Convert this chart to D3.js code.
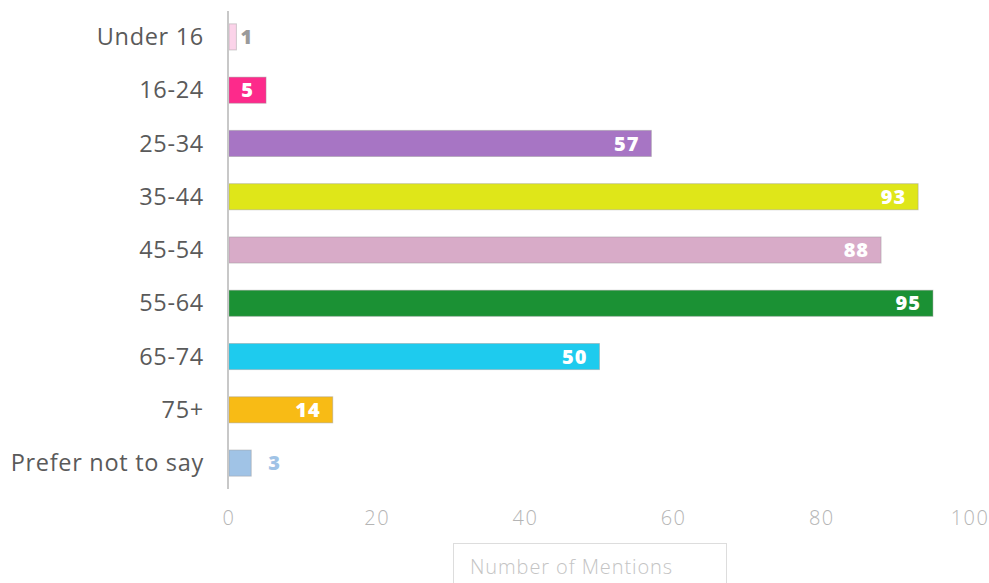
<!doctype html>
<html>
  <head>
    <meta charset="utf-8">
    <title>Age groups</title>
    <script src="https://cdnjs.cloudflare.com/ajax/libs/d3/7.8.5/d3.min.js"></script>
    <style>
      body { margin: 0; background: #fff; }
      svg text { font-family: "Open Sans", Lato, sans-serif; }
    </style>
  </head>
  <body>
    <div id="chart"></div>
    <script>
      // data
      const ageGroups = ['Under 16', '16-24', '25-34', '35-44', '45-54', '55-64', '65-74', '75+', 'Prefer not to say'];
      const mentions = [1, 5, 57, 93, 88, 95, 50, 14, 3];
      const barColors = ['#fbd3e9', '#fd2a8b', '#a775c4', '#dfe619', '#d8abc8', '#1b9134', '#1ecbee', '#f8bb15', '#a0c3e6'];
      const xTicks = [0, 20, 40, 60, 80, 100];

      const rows = ageGroups.map((g, i) => ({ group: g, value: mentions[i], color: barColors[i] }));

      const width = 989, height = 583;
      const svg = d3.select('#chart').append('svg')
        .attr('width', width)
        .attr('height', height);

      const x = d3.scaleLinear().domain([0, 100]).range([228, 969]);
      const y = d3.scaleBand()
        .domain(ageGroups)
        .range([10, 490])
        .paddingInner(0.51)
        .paddingOuter(0.26);

      // bars
      svg.selectAll('rect.bar')
        .data(rows)
        .join('rect')
        .attr('class', 'bar')
        .attr('x', x(0) + 1)
        .attr('y', d => y(d.group))
        .attr('width', d => x(d.value) - x(0))
        .attr('height', y.bandwidth())
        .attr('fill', d => d.color)
        .attr('stroke', '#999')
        .attr('stroke-opacity', 0.45)
        .attr('stroke-width', 1);

      // vertical axis line
      svg.append('line')
        .attr('x1', x(0)).attr('x2', x(0))
        .attr('y1', 11).attr('y2', 489)
        .attr('stroke', '#c8c8c8')
        .attr('stroke-width', 2);

      // category labels (letter-spacing leaves a trailing gap, so nudge right)
      svg.selectAll('text.cat')
        .data(rows)
        .join('text')
        .attr('class', 'cat')
        .attr('x', 204)
        .attr('y', d => y(d.group) + y.bandwidth() / 2)
        .attr('dy', '0.35em')
        .attr('text-anchor', 'end')
        .attr('font-size', 23.5)
        .attr('letter-spacing', 0.7)
        .attr('fill', '#5a5a5a')
        .text(d => d.group);

      // value labels
      const light = c => d3.hsl(c).l > 0.85;
      svg.selectAll('text.val')
        .data(rows)
        .join('text')
        .attr('class', 'val')
        .attr('x', d => d.value >= 5 ? x(d.value) - 11 : x(d.value) + (d.value > 1 ? 18 : 5))
        .attr('y', d => y(d.group) + y.bandwidth() / 2)
        .attr('dy', '0.36em')
        .attr('text-anchor', d => d.value >= 5 ? 'end' : 'start')
        .attr('font-size', 20)
        .attr('font-weight', 800)
        .attr('letter-spacing', 1)
        .attr('fill', d => d.value >= 5 ? '#fff' : (light(d.color) ? '#9a9a9a' : d.color))
        .text(d => d.value);

      // x axis tick labels
      svg.selectAll('text.tick')
        .data(xTicks)
        .join('text')
        .attr('class', 'tick')
        .attr('x', d => x(d) + 1)
        .attr('y', 518)
        .attr('dy', '0.35em')
        .attr('text-anchor', 'middle')
        .attr('font-size', 20)
        .attr('font-weight', 300)
        .attr('letter-spacing', 1.5)
        .attr('fill', '#b5b5b5')
        .text(d => d);

      // axis title in a box
      svg.append('rect')
        .attr('x', 453.5).attr('y', 543.5)
        .attr('width', 273).attr('height', 50)
        .attr('fill', '#fff')
        .attr('stroke', '#ddd');

      svg.append('text')
        .attr('x', 470)
        .attr('y', 567)
        .attr('dy', '0.35em')
        .attr('font-size', 20)
        .attr('font-weight', 300)
        .attr('letter-spacing', 0.9)
        .attr('fill', '#c4c4c4')
        .text('Number of Mentions');
    </script>
  </body>
</html>
